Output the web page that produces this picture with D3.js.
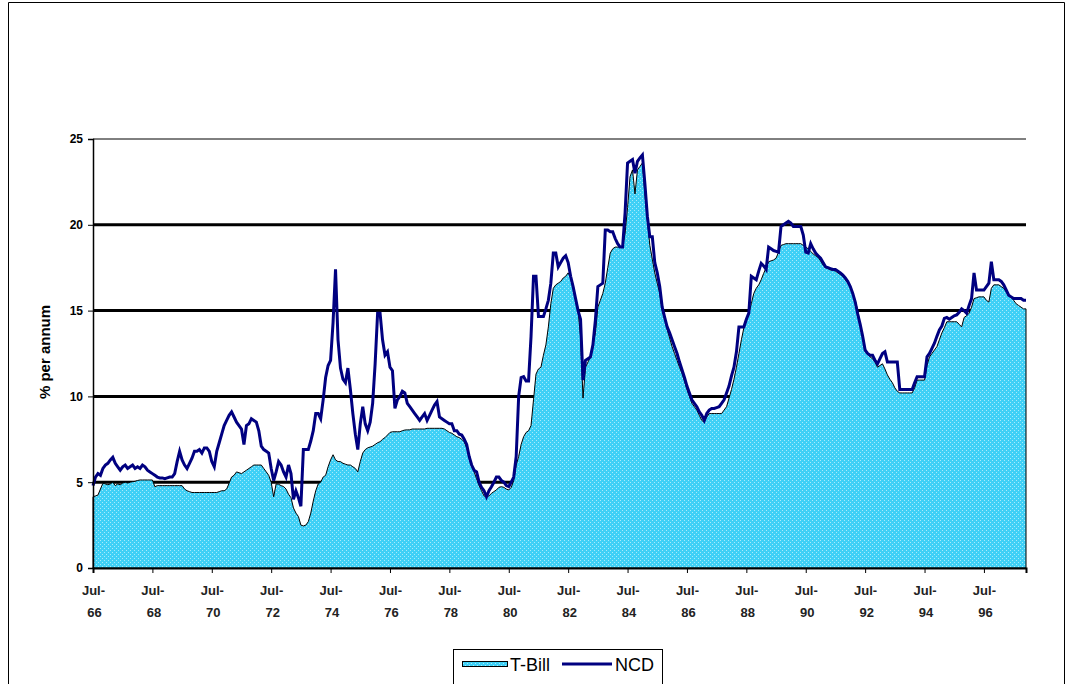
<!DOCTYPE html>
<html><head><meta charset="utf-8">
<script src="https://cdn.jsdelivr.net/npm/d3@7"></script>
<style>
html,body{margin:0;padding:0;background:#fff;}
svg{display:block;font-family:"Liberation Sans",Arial,sans-serif;}
</style></head><body>
<svg id="chart" width="1067" height="684"></svg>
<script>
// Monthly yields, Jul 1966 – Dec 1997, % per annum (one line per calendar year)
const tbill = [
  4.15, 4.2, 4.25, 4.6, 4.94, 4.9,
  4.85, 4.9, 5.0, 4.8, 4.9, 4.85, 4.95, 5.0, 4.95, 5.0, 5.03, 5.05,
  5.1, 5.13, 5.13, 5.13, 5.13, 5.13, 5.13, 4.74, 4.8, 4.8, 4.8, 4.8,
  4.8, 4.8, 4.8, 4.8, 4.8, 4.8, 4.8, 4.6, 4.5, 4.45, 4.4, 4.4,
  4.4, 4.4, 4.4, 4.4, 4.4, 4.4, 4.4, 4.4, 4.4, 4.45, 4.5, 4.5,
  4.6, 4.94, 5.3, 5.4, 5.6, 5.55, 5.5, 5.6, 5.7, 5.8, 5.9, 6.0,
  6.0, 6.0, 6.0, 5.8, 5.6, 5.4, 5.0, 4.15, 4.9, 4.88, 4.8, 4.75,
  4.6, 4.3, 4.1, 3.5, 3.2, 3.0, 2.5, 2.45, 2.5, 2.7, 3.2, 3.9,
  4.5, 4.9, 5.0, 5.3, 5.4, 5.9, 6.3, 6.6, 6.3, 6.2, 6.2, 6.1,
  6.05, 6.0, 6.0, 5.9, 5.8, 5.6, 6.2, 6.7, 6.9, 7.0, 7.05, 7.1,
  7.2, 7.3, 7.36, 7.5, 7.6, 7.75, 7.9, 7.94, 7.94, 7.94, 7.94, 8.0,
  8.04, 8.05, 8.05, 8.1, 8.1, 8.1, 8.1, 8.1, 8.1, 8.14, 8.14, 8.14,
  8.14, 8.14, 8.14, 8.14, 8.1, 8.0, 7.9, 7.85, 7.75, 7.65, 7.6, 7.5,
  7.35, 7.0, 6.4, 6.0, 5.6, 5.2, 4.8, 4.5, 4.2, 4.15, 4.2, 4.35,
  4.45, 4.55, 4.7, 4.74, 4.7, 4.6, 4.55, 4.7, 5.1, 6.0, 6.5, 7.2,
  7.65, 7.9, 8.0, 8.3, 9.8, 11.3, 11.6, 11.7, 12.4, 13.0, 14.05, 15.4,
  16.3, 16.5, 16.6, 16.7, 16.9, 17.0, 17.2, 16.9, 16.5, 15.7, 15.0, 13.5,
  9.9, 11.7, 12.0, 12.3, 13.0, 13.7, 15.2, 15.6, 16.0, 16.6, 17.5, 18.35,
  18.6, 18.7, 18.7, 18.7, 18.7, 19.5, 21.0, 22.8, 23.2, 21.8, 23.2, 23.4,
  23.6, 21.8, 20.3, 18.8, 18.0, 17.2, 16.6, 16.0, 15.0, 14.5, 13.9, 13.4,
  12.9, 12.5, 12.1, 11.7, 11.35, 10.9, 10.4, 10.0, 9.6, 9.4, 9.2, 8.9,
  8.6, 8.5, 8.8, 9.0, 9.0, 9.0, 9.0, 9.0, 9.0, 9.2, 9.4, 9.9,
  10.4, 11.0, 11.7, 12.5, 13.3, 14.0, 14.4, 14.8, 15.4, 16.0, 16.3, 16.5,
  16.8, 17.17, 17.5, 17.85, 17.9, 17.95, 18.05, 18.4, 18.8, 18.85, 18.9, 18.9,
  18.9, 18.9, 18.9, 18.9, 18.9, 18.8, 18.7, 18.6, 18.45, 18.3, 18.2, 18.1,
  17.9, 17.65, 17.5, 17.45, 17.37, 17.35, 17.3, 17.2, 17.1, 17.0, 16.8, 16.6,
  16.4, 16.0, 15.6, 15.0, 14.2, 13.5, 12.8, 12.5, 12.3, 12.2, 12.0, 11.7,
  11.8, 11.9, 11.6, 11.25, 11.0, 10.8, 10.5, 10.3, 10.2, 10.2, 10.2, 10.2,
  10.2, 10.2, 10.5, 10.95, 10.95, 10.95, 10.95, 11.8, 12.3, 12.5, 12.7, 12.9,
  13.3, 13.7, 14.0, 14.35, 14.35, 14.35, 14.35, 14.35, 14.2, 14.05, 14.6, 14.7,
  14.85, 15.2, 15.7, 15.75, 15.8, 15.8, 15.8, 15.6, 15.5, 16.3, 16.5, 16.5,
  16.5, 16.4, 16.3, 16.1, 15.9, 15.8, 15.6, 15.4, 15.3, 15.2, 15.1, 15.1
];

const ncd = [
  4.8, 5.3, 5.5, 5.4, 5.8, 6.0,
  6.1, 6.3, 6.45, 6.1, 5.9, 5.7, 5.9, 6.0, 5.8, 5.9, 6.0, 5.8,
  5.9, 5.8, 6.0, 5.9, 5.7, 5.6, 5.5, 5.4, 5.3, 5.25, 5.25, 5.2,
  5.25, 5.3, 5.3, 5.5, 6.2, 6.8, 6.3, 6.0, 5.8, 6.1, 6.4, 6.8,
  6.8, 6.9, 6.7, 7.0, 7.0, 6.8, 6.2, 5.9, 6.8, 7.3, 7.8, 8.3,
  8.6, 8.9, 9.1, 8.8, 8.5, 8.3, 8.1, 7.2, 8.3, 8.4, 8.7, 8.6,
  8.5, 8.0, 7.1, 6.9, 6.8, 6.7, 5.8, 5.1, 5.6, 6.2, 6.0, 5.6,
  5.3, 6.0, 5.5, 4.0, 4.5, 4.1, 3.6, 6.9, 6.9, 6.9, 7.4, 8.0,
  9.0, 9.0, 8.7, 9.8, 11.1, 11.8, 12.1, 14.3, 17.4, 13.3, 11.65, 11.0,
  10.8, 11.65, 10.4, 9.0, 7.8, 6.9, 8.4, 9.4, 8.4, 8.0, 8.5, 9.6,
  11.9, 14.85, 14.85, 13.3, 12.4, 12.6, 11.7, 11.5, 9.3, 9.8, 10.0, 10.3,
  10.2, 9.6, 9.4, 9.2, 9.0, 8.8, 8.6, 8.8, 9.0, 8.6, 8.9, 9.2,
  9.5, 9.7, 8.8, 8.7, 8.6, 8.5, 8.4, 8.4, 8.0, 8.0, 7.8, 7.75,
  7.5, 7.2, 6.5, 6.0, 5.7, 5.6, 5.0, 4.7, 4.5, 4.15, 4.5, 4.74,
  5.0, 5.3, 5.3, 5.1, 5.0, 4.8, 4.74, 5.0, 5.3, 6.5, 10.0, 11.1,
  11.15, 10.9, 10.9, 13.5, 17.0, 17.0, 14.65, 14.65, 14.65, 15.1, 15.6, 16.6,
  18.35, 18.35, 17.55, 17.8, 18.05, 18.2, 17.8, 17.0, 16.4, 15.7, 15.0, 14.5,
  10.95, 12.1, 12.2, 12.3, 13.0, 14.45, 16.4, 16.5, 16.6, 19.7, 19.7, 19.6,
  19.6, 19.2, 18.9, 18.7, 18.7, 20.7, 23.6, 23.7, 23.8, 23.0, 23.7, 23.9,
  24.07, 22.4, 20.5, 19.3, 19.3, 17.8, 17.2, 16.4, 15.2, 14.6, 14.05, 13.7,
  13.3, 12.9, 12.5, 12.0, 11.55, 11.1, 10.6, 10.2, 9.8, 9.6, 9.4, 9.1,
  8.9, 8.6, 9.0, 9.2, 9.3, 9.3, 9.35, 9.4, 9.6, 9.8, 10.2, 10.6,
  11.2, 11.7, 12.6, 14.05, 14.05, 14.05, 14.5, 14.85, 17.0, 16.9, 16.8, 17.3,
  17.75, 17.6, 17.4, 18.7, 18.6, 18.5, 18.45, 18.4, 19.9, 20.0, 20.1, 20.2,
  20.1, 19.9, 19.9, 19.9, 19.9, 19.4, 18.4, 18.35, 18.9, 18.6, 18.35, 18.2,
  18.05, 17.8, 17.55, 17.5, 17.45, 17.4, 17.4, 17.3, 17.2, 17.07, 16.9, 16.7,
  16.4, 16.0, 15.5, 14.8, 14.2, 13.5, 12.7, 12.5, 12.4, 12.4, 12.1, 11.9,
  12.2, 12.5, 12.6, 12.0, 12.0, 12.0, 12.0, 12.0, 10.4, 10.4, 10.4, 10.4,
  10.4, 10.4, 10.8, 11.15, 11.15, 11.15, 11.15, 12.3, 12.5, 12.8, 13.1, 13.5,
  13.87, 14.1, 14.55, 14.6, 14.5, 14.6, 14.7, 14.75, 14.9, 15.1, 15.0, 14.85,
  15.3, 15.7, 17.2, 16.2, 16.2, 16.2, 16.2, 16.4, 16.6, 17.85, 16.8, 16.8,
  16.8, 16.7, 16.5, 16.2, 15.9, 15.8, 15.7, 15.7, 15.7, 15.7, 15.6, 15.6
];

// Category labels every 24 months, starting at the first observation
const tickLabels = ["Jul-66","Jul-68","Jul-70","Jul-72","Jul-74","Jul-76","Jul-78","Jul-80",
                    "Jul-82","Jul-84","Jul-86","Jul-88","Jul-90","Jul-92","Jul-94","Jul-96"];
const yTicks = [0, 5, 10, 15, 20, 25];
const seriesNames = ["T-Bill", "NCD"];

const svg = d3.select("#chart");
const plot = {left: 93, right: 1026, top: 139, bottom: 568};

const x = d3.scaleLinear().domain([0, tbill.length - 1]).range([plot.left, plot.right]);
const y = d3.scaleLinear().domain([0, 25]).range([plot.bottom, plot.top]);

const tbillFill = "#3fd0f6";

// Faint white dot lattice laid over the cyan T-Bill fill (16px tile, 4px motif)
const defs = svg.append("defs");
const pat = defs.append("pattern").attr("id", "trellis")
  .attr("patternUnits", "userSpaceOnUse").attr("width", 16).attr("height", 16);
const dots = [];
for (let py = 0; py < 16; py++) {
  for (let px = 0; px < 16; px++) {
    if ((px + py) % 4 === 0 && px % 2 === 0) dots.push([px, py]);
  }
}
pat.selectAll("rect").data(dots).join("rect")
  .attr("x", d => d[0]).attr("y", d => d[1]).attr("width", 1).attr("height", 1)
  .attr("fill", "#ffffff").attr("fill-opacity", 0.55).attr("shape-rendering", "crispEdges");

// Outer chart frame
svg.append("path")
  .attr("d", "M8.5,690 V2.5 H1064.5 V690")
  .attr("fill", "none").attr("stroke", "#000").attr("stroke-width", 1);

// Horizontal gridlines
svg.append("g").selectAll("line")
  .data(yTicks.filter(d => d > 0))
  .join("line")
  .attr("x1", plot.left).attr("x2", plot.right)
  .attr("y1", d => y(d)).attr("y2", d => y(d))
  .attr("stroke", "#000")
  .attr("stroke-width", d => d === 25 ? 1 : 3);

// T-Bill area: solid cyan, lattice overlay, thin black outline
const area = d3.area()
  .x((d, i) => x(i)).y0(y(0)).y1(d => y(d));
svg.append("path")
  .datum(tbill)
  .attr("d", area)
  .attr("fill", tbillFill);
svg.append("path")
  .datum(tbill)
  .attr("d", area)
  .attr("fill", "url(#trellis)")
  .attr("stroke", "#000").attr("stroke-width", 1);

// NCD line
const line = d3.line().x((d, i) => x(i)).y(d => y(d));
svg.append("path")
  .datum(ncd)
  .attr("d", line)
  .attr("fill", "none")
  .attr("stroke", "#000080").attr("stroke-width", 3)
  .attr("stroke-linejoin", "miter");

// Y axis
const yAxis = d3.axisLeft(y).tickValues(yTicks).tickSize(5).tickPadding(5).tickFormat(d3.format("d"));
svg.append("g")
  .attr("transform", `translate(${plot.left},0)`)
  .call(yAxis)
  .call(g => g.select(".domain").attr("stroke", "#000").attr("stroke-width", 1.5))
  .call(g => g.selectAll("text").attr("font-size", 12).attr("font-weight", "bold")
        .attr("font-family", "Liberation Sans, Arial, sans-serif").attr("fill", "#000"));

// X axis with two-line category labels
const xAxis = d3.axisBottom(x)
  .tickValues(tickLabels.map((_, i) => i * 24))
  .tickSize(5).tickPadding(8)
  .tickFormat((d, i) => tickLabels[i]);
svg.append("g")
  .attr("transform", `translate(0,${plot.bottom})`)
  .call(xAxis)
  .call(g => g.select(".domain").attr("stroke", "#000").attr("stroke-width", 2))
  .call(g => g.selectAll("text").each(function() {
    const t = d3.select(this);
    const [a, b] = t.text().split("-");
    t.text(null).attr("y", 0).attr("dy", null).attr("font-size", 13).attr("font-weight", "bold")
     .attr("font-family", "Liberation Sans, Arial, sans-serif").attr("fill", "#222");
    t.append("tspan").attr("x", 0).attr("y", 27).text(a + "-");
    t.append("tspan").attr("x", 1).attr("y", 49).text(b);
  }));

// Y axis title
svg.append("text")
  .attr("transform", "translate(50,352) rotate(-90)")
  .attr("text-anchor", "middle")
  .attr("font-size", 15).attr("font-weight", "bold")
  .text("% per annum");

// Legend
const lg = svg.append("g").attr("transform", "translate(453,649)");
lg.append("rect").attr("x", 0.5).attr("y", 0.5).attr("width", 209).attr("height", 40)
  .attr("fill", "#fff").attr("stroke", "#000").attr("stroke-width", 1);
lg.append("rect").attr("x", 9.5).attr("y", 12.5).attr("width", 45).attr("height", 5)
  .attr("fill", tbillFill);
lg.append("rect").attr("x", 9.5).attr("y", 12.5).attr("width", 45).attr("height", 5)
  .attr("fill", "url(#trellis)").attr("stroke", "#000").attr("stroke-width", 1);
lg.append("text").attr("x", 57).attr("y", 22).attr("font-size", 18).text(seriesNames[0]);
lg.append("line").attr("x1", 109).attr("x2", 159).attr("y1", 15).attr("y2", 15)
  .attr("stroke", "#000080").attr("stroke-width", 3);
lg.append("text").attr("x", 162).attr("y", 22).attr("font-size", 18).text(seriesNames[1]);
</script>
</body></html>
